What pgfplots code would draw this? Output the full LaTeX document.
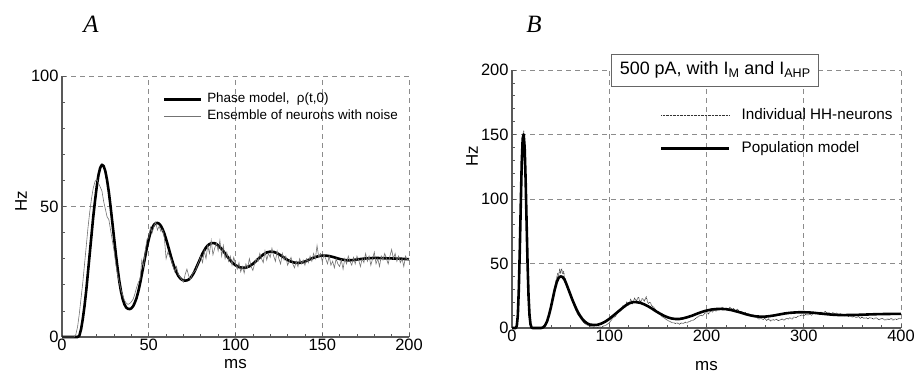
\documentclass[border=0pt]{standalone}
\usepackage{fontspec}
\setmainfont{Liberation Sans}
\newfontfamily\serifit{Liberation Serif}
\usepackage{pgfplots}
\pgfplotsset{compat=1.18}

\pgfplotsset{
  myaxis/.style={
    scale only axis,
    anchor=south west,
    axis x line*=bottom, axis y line*=left,
    axis line style={-, draw=black!65, line width=1.1bp},
    tick align=inside,
    major tick length=4bp, minor tick length=3bp,
    every tick/.style={black!65, line width=0.7bp},
    minor tick num=4,
    grid=major,
    major grid style={draw=black!45, line width=0.7bp, dash pattern=on 5bp off 4bp},
    /pgf/number format/assume math mode=true,
    tick label style={font=\fontsize{16.5}{16.5}\selectfont},
    xticklabel style={yshift=1bp},
    clip=false,
  }
}

\begin{document}
\begin{tikzpicture}
\path (0,0) rectangle (916bp,376bp);

% ---------------- Panel A ----------------
\begin{axis}[myaxis,
  at={(62bp,39bp)}, width=347bp, height=261bp,
  xmin=0, xmax=200, ymin=0, ymax=100,
  xtick={0,50,100,150,200}, ytick={0,50,100},
  xlabel={ms}, ylabel={Hz},
  every axis x label/.style={at={([yshift=-27bp]axis description cs:0.5,0)}, anchor=center, font=\fontsize{17}{17}\selectfont},
  every axis y label/.style={at={([xshift=-41bp]axis description cs:0,0.52)}, anchor=center, rotate=90, font=\fontsize{17}{17}\selectfont},
  legend style={draw=none, fill=none, at={(rel axis cs:0.291,0.94)}, anchor=north west,
    inner sep=0pt, font=\fontsize{13.5}{15}\selectfont,
    nodes={text height=10bp, text depth=3bp, inner sep=1bp}, row sep=1.5bp,
    /tikz/every odd column/.append style={column sep=3.5bp}},
  legend cell align=left,
  legend image code/.code={\draw[#1] (0bp,0bp) -- (37bp,0bp);},
]
\addplot[black, line width=2.6bp, line join=round] table {
0 0
9 0
10 0.5
11 3
12 7
13 12
14 18
15 25
16 32
17 39
18 46
19 52
20 57.5
21 62
22 64.8
23 66
24 65.5
25 63.5
26 60
27 55.5
28 50
29 44
30 38
31 32
32 26.5
33 21.5
34 17.5
35 14.5
36 12.5
37 11.3
38 10.8
39 10.7
40 11
41 11.8
42 13.2
43 15
44 17.5
45 20.5
46 24
47 27.5
48 31
49 34.5
50 37.5
51 40
52 41.8
53 43
54 43.6
55 43.7
56 43.4
57 42.6
58 41.3
59 39.6
60 37.5
61 35.2
62 32.8
63 30.4
64 28.2
65 26.3
66 24.8
67 23.5
68 22.6
69 22
70 21.7
71 21.6
72 21.7
73 22
74 22.6
75 23.5
76 24.6
77 26
78 27.5
79 29
80 30.5
81 32
82 33.2
83 34.3
84 35.1
85 35.6
86 35.9
87 36
88 35.9
89 35.6
90 35.1
92 33.8
94 32
96 30.2
98 28.6
100 27.5
102 26.8
104 26.5
106 26.6
108 27.1
110 28
112 29.2
114 30.5
116 31.6
118 32.4
120 32.7
122 32.6
124 32.1
126 31.3
128 30.4
130 29.5
132 28.9
134 28.5
136 28.4
138 28.5
140 28.9
142 29.5
144 30.1
146 30.6
148 31
150 31.2
152 31.2
154 31
156 30.7
158 30.3
160 29.9
162 29.6
164 29.4
166 29.4
168 29.5
170 29.7
175 30.1
180 30.3
185 30.2
190 30.1
195 30
200 29.8
};
\addlegendentry{Phase model,\ \ ρ(t,0)}
\addplot[black!55, line width=0.6bp] table {
0 0
7 0
8 1
9 4
10 9
11 15
12 21
13 28
14 35
15 42
16 48
17 53
18 57
19 59.5
20 60.5
21 59
22 57.5
23 56
24 52
25 49
26 46
27 45
28 41
29 37
30 33
31 28
32 24
33 21
34 18
35 16
36 14
37 13
38 12.5
39 12.8
40 13.5
41 14.5
42 16.5
43 19
44 21
45 22
46 29.5
47 27
48 33
49 37.5
50 38
51 42
52 40
53 42.5
54 44
55 41
56 42.5
57 40.5
58 41
59 38
60 30
61 32.5
62 31
63 29.5
64 27
65 25
66 27
67 24
68 23
69 22
70 21
71 24
72 26
73 23.5
74 22
75 24
76 25
77 25.5
78 27.5
79 29
80 31
81 28.5
82 33
83 30
84 35
85 32
86 37
87 31.5
88 34
89 36
90 33
91 37
92 31
93 35
94 30
95 32.5
96 29
97 31
98 27.5
99 30.5
100 28
101 26
102 28.5
103 25
104 27
105 24.5
106 28
107 26.5
108 30
109 27
110 25.5
111 28
112 30
113 29
114 32
115 30
116 28.5
117 33
118 29.5
119 32
120 30.5
121 34
122 31
123 29
124 33
125 30
126 28
127 32
128 29.5
129 31
130 27.5
131 29
132 30.5
133 28
134 26.5
135 29
136 27
137 30
138 28
139 29.5
140 27.5
141 30
142 28.5
143 31
144 29
145 32
146 30
147 35
148 30.5
149 32
150 29
151 31.5
152 30
153 28
154 31
155 27.5
156 29
157 26.5
158 30
159 28
160 27
161 29.5
162 26
163 30
164 28
165 31
166 29
167 27.5
168 30.5
169 28
170 31
171 29.5
172 27
173 30
174 28.5
175 32
176 29
177 31
178 27.5
179 30
180 32.5
181 28
182 30
183 27
184 31
185 29.5
186 32
187 30
188 28
189 31
190 33.5
191 30
192 32
193 29
194 31
195 28.5
196 30
197 27
198 31
199 29.5
200 30
};
\addlegendentry{Ensemble of neurons with noise}
\end{axis}

% ---------------- Panel B ----------------
\begin{axis}[myaxis,
  at={(512bp,48bp)}, width=389bp, height=258bp,
  xmin=0, xmax=400, ymin=0, ymax=200,
  xtick={0,100,200,300,400}, ytick={0,50,100,150,200},
  xlabel={ms}, ylabel={Hz},
  every axis x label/.style={at={([yshift=-38bp]axis description cs:0.5,0)}, anchor=center, font=\fontsize{17}{17}\selectfont},
  every axis y label/.style={at={([xshift=-40bp]axis description cs:0,0.665)}, anchor=center, rotate=90, font=\fontsize{17}{17}\selectfont},
  legend style={draw=none, fill=none, at={(rel axis cs:0.380,0.855)}, anchor=north west,
    inner sep=0pt, font=\fontsize{15.3}{17}\selectfont,
    nodes={text height=11bp, text depth=3.5bp, inner sep=1bp}, row sep=16bp,
    /tikz/every odd column/.append style={column sep=10bp}},
  legend cell align=left,
  legend image code/.code={\draw[#1] (0bp,0bp) -- (68bp,0bp);},
]
\addplot[black!80, line width=0.8bp, dash pattern=on 0.7bp off 0.7bp] table {
0 0
4 0
5 3
6 12
7 33
8 64
9 100
10 132
11 150
12 152
13 141
14 113
15 80
16 48
17 22
18 8
19 2
20 0
30 0
32 0.3
34 1.5
36 4
38 9
40 17
42 26
44 31
45 36
46 39
47 42
48 41
49 45
50 43
51 46
52 42
53 44
54 39
55 38
56 35
58 31
60 26
62 21
64 17
66 13
68 10
70 8
72 6
74 4
76 3
78 2
80 1.5
82 1
84 0.5
86 0.8
88 0.3
90 1
92 0.5
94 1.5
96 2
98 3
100 4
102 6
104 8
106 9
108 11
110 13
112 14
114 17
116 16
118 20
120 18
122 22
124 19
126 23
128 21
130 24
132 20
134 23
136 21
138 24
140 19
142 20
144 17
146 16
148 14
150 12
152 11
154 9
156 8
158 7
160 6
162 5
164 4.5
166 4
168 3.5
170 4
172 3
174 4
176 3.5
178 4.5
180 4
182 5
184 5.5
186 6
188 7
190 8
192 9
194 10
196 9.5
198 11
200 12
202 11
204 13
206 12.5
208 14
210 13
212 15
214 14
216 16
218 14.5
220 15.5
222 14
224 16
226 14.5
228 15
230 13.5
232 14.5
234 12.5
236 13
238 11.5
240 12
242 10.5
244 11
246 9.5
248 10
250 9
252 8
254 7
256 8
258 6.5
260 7.5
262 6
264 7
266 5.5
268 6.5
270 6
272 7
274 5.5
276 6.5
278 7
280 6
282 7.5
284 7
286 8
288 7
290 8.5
292 8
294 9
296 9.5
298 10
300 9.5
302 10.5
304 10
306 11
308 10
310 11.5
312 11
314 12
316 10.5
318 12.5
320 11
322 13
324 11.5
326 12
328 10.5
330 12
332 11
334 11.5
336 10
338 11
340 10.5
342 9.5
344 10
346 9
348 9.5
350 8.5
352 9
354 8
356 9
358 7.5
360 8.5
362 7.5
364 8
366 7
368 8
370 7.5
372 7
374 8
376 7
378 6.5
380 7.5
382 7
384 6
386 7
388 6.5
390 7.5
392 6
394 7
396 6.5
398 7.5
400 7
};
\addlegendentry{Individual HH-neurons}
\addplot[black, line width=2.6bp, line join=round] table {
0 0
4 0
5 2
6 10
7 30
8 60
9 95
10 128
11 147
12 150
13 140
14 115
15 82
16 50
17 25
18 10
19 3
20 0.5
21 0
30 0
32 0.5
34 2
36 5
38 10
40 16
42 23
44 30
46 35.5
48 39
50 40
52 39.5
54 37.5
56 34
58 30
60 26
62 22
64 18.5
66 15
68 12
70 9.5
72 7.3
74 5.6
76 4.3
78 3.3
80 2.7
84 2.3
88 2.5
92 3.5
96 5
100 7
104 9.5
108 12
112 14.5
116 17
120 19
124 20
128 20
132 19.5
136 18.3
140 16.8
144 15
148 13
152 11.2
156 9.6
160 8.3
164 7.4
168 7
172 7
176 7.5
180 8.3
185 9.5
190 11
195 12.4
200 13.5
205 14.3
210 14.7
215 14.8
220 14.6
225 14
230 13
235 12
240 10.8
245 9.8
250 9.1
255 8.8
260 8.8
265 9.2
270 9.8
275 10.5
280 11.2
285 11.7
290 12
295 12.2
300 12.2
305 12.1
310 11.8
315 11.4
320 11
325 10.6
330 10.3
335 10.1
340 10
350 10.1
360 10.3
370 10.6
380 10.8
390 10.9
400 11
};
\addlegendentry{Population model}
\node[draw=black!60, line width=0.8bp, fill=white, minimum height=32bp, inner xsep=8bp,
  font=\fontsize{18}{18}\selectfont] at (axis cs:209,200) {500 pA, with I\textsubscript{M} and I\textsubscript{AHP}};
\end{axis}

\node[font=\serifit\itshape\fontsize{25}{25}\selectfont] at (91bp,352bp) {A};
\node[font=\serifit\itshape\fontsize{25}{25}\selectfont] at (534bp,352bp) {B};

\pgfresetboundingbox
\path[use as bounding box] (0,0) rectangle (916bp,376bp);
\end{tikzpicture}
\end{document}
